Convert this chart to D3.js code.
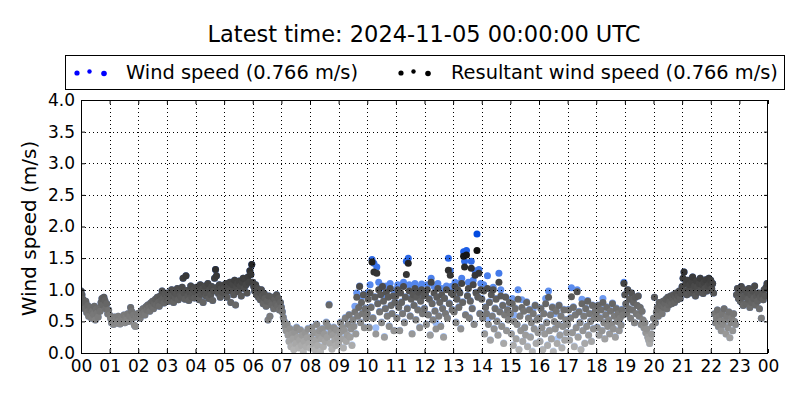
<!DOCTYPE html>
<html>
<head>
<meta charset="utf-8">
<script src="https://cdn.jsdelivr.net/npm/d3@7"></script>
<style>
  body { margin: 0; background: #fff; }
  svg text { font-family: "DejaVu Sans", sans-serif; fill: #000; }
</style>
</head>
<body>
<svg id="chart" width="800" height="400"></svg>
<script>
// ---------------- data ----------------
const titleText = "Latest time: 2024-11-05 00:00:00 UTC";
const seriesNames = ["Wind speed (0.766 m/s)", "Resultant wind speed (0.766 m/s)"];
const yAxisLabel = "Wind speed (m/s)";
const hourLabels = ["00","01","02","03","04","05","06","07","08","09","10","11",
                    "12","13","14","15","16","17","18","19","20","21","22","23","00"];
const yTickValues = [0.0, 0.5, 1.0, 1.5, 2.0, 2.5, 3.0, 3.5, 4.0];
const sampleMinutes = 2; // one sample every 2 minutes, 30 per hour

// Wind speed (m/s), 30 samples per hour, hours 00..23
const windSpeed = [
  0.98,0.92,0.85,0.78,0.70,0.82,0.64,0.75,0.58,0.68,0.72,0.55,0.66,0.61,0.74,0.52,0.69,0.63,0.57,0.71,0.66,0.80,0.86,0.76,0.88,0.83,0.70,0.78,0.62,0.68, // 00
  0.60,0.55,0.48,0.52,0.45,0.57,0.50,0.54,0.47,0.58,0.51,0.46,0.55,0.49,0.53,0.60,0.48,0.56,0.52,0.62,0.50,0.58,0.72,0.66,0.55,0.60,0.44,0.42,0.57,0.62, // 01
  0.58,0.63,0.55,0.66,0.61,0.70,0.64,0.60,0.73,0.68,0.76,0.71,0.66,0.79,0.74,0.82,0.70,0.78,0.85,0.76,0.88,0.80,0.74,0.90,0.83,0.98,0.86,0.79,0.93,0.85, // 02
  0.88,0.95,0.82,0.92,0.86,1.00,0.90,0.80,0.96,0.87,0.93,1.02,0.84,0.97,0.91,0.88,1.04,1.18,0.95,0.85,1.22,0.99,0.90,0.83,0.96,1.06,0.89,0.94,1.00,0.87, // 03
  0.96,1.04,0.88,0.99,0.84,1.08,0.93,1.01,0.80,0.97,1.06,0.90,0.95,1.10,0.86,1.00,0.92,1.05,0.83,0.98,1.18,1.32,1.22,1.04,0.94,1.08,0.88,1.02,0.96,1.07, // 04
  1.02,0.94,1.10,0.88,1.05,0.98,1.12,0.80,1.00,1.08,0.92,1.15,0.76,1.04,1.10,0.97,1.14,1.06,0.90,1.12,1.18,1.02,1.16,1.08,0.95,1.20,1.12,1.30,1.24,1.40, // 05
  1.12,1.05,0.98,1.08,0.92,1.02,0.88,0.96,0.84,1.00,0.90,0.78,0.94,0.86,0.74,0.82,0.52,0.90,0.58,0.80,0.76,0.88,0.70,0.84,0.78,0.92,0.74,0.86,0.68,0.80, // 06
  0.73,0.66,0.57,0.51,0.43,0.36,0.46,0.29,0.19,0.39,0.11,0.31,0.30,0.06,0.34,0.16,0.41,0.26,0.09,0.21,0.37,0.13,0.29,0.03,0.19,0.33,0.11,0.25,0.39,0.16, // 07
  0.09,0.26,0.41,0.24,0.33,0.06,0.21,0.46,0.13,0.29,0.36,0.03,0.23,0.39,0.11,0.31,0.19,0.49,0.33,0.43,0.77,0.16,0.34,0.07,0.29,0.41,0.21,0.13,0.37,0.25, // 08
  0.16,0.33,0.49,0.23,0.41,0.09,0.36,0.56,0.28,0.29,0.46,0.61,0.26,0.39,0.13,0.53,0.43,0.74,0.31,0.95,0.59,0.73,1.06,0.49,0.88,0.63,0.93,0.41,0.71,0.56, // 09
  0.63,0.96,0.41,1.08,0.73,1.48,0.56,1.42,0.89,0.40,1.36,0.79,1.12,0.66,1.02,0.49,1.06,0.90,0.26,0.71,1.06,0.59,0.89,0.43,1.10,0.76,0.63,1.00,0.36,0.81, // 10
  1.00,0.56,1.08,0.73,0.36,1.06,0.81,0.63,1.12,0.49,0.89,1.45,0.71,1.50,1.08,0.59,0.86,0.31,0.93,0.76,1.10,0.53,0.89,0.69,1.04,0.41,0.83,1.09,0.63,0.91, // 11
  0.71,0.93,0.46,1.08,0.61,0.86,0.29,1.18,0.79,0.53,1.05,0.67,0.48,0.89,1.10,0.59,0.81,0.43,1.02,0.71,0.26,0.87,0.63,1.06,0.56,1.50,0.79,1.30,1.05,0.69, // 12
  1.02,0.66,1.12,0.49,0.86,1.10,0.73,0.96,0.39,1.18,0.81,1.60,1.45,0.61,1.62,0.91,1.12,0.56,0.83,1.45,0.71,1.15,0.46,1.30,0.96,1.88,0.89,1.32,0.63,1.10, // 13
  0.86,0.56,1.08,0.31,0.73,0.63,1.22,0.55,0.81,0.21,1.00,0.59,1.04,0.39,0.71,0.86,0.51,0.29,1.26,0.66,1.00,0.43,0.76,0.16,0.61,0.89,0.36,0.69,0.53,0.81, // 14
  0.63,0.31,0.86,0.13,0.60,0.71,0.23,0.46,1.00,0.06,0.59,0.36,0.84,0.19,0.67,0.41,0.29,0.81,0.11,0.56,0.69,0.26,0.49,0.03,0.70,0.39,0.76,0.16,0.53,0.33, // 15
  0.56,0.19,0.71,0.41,0.06,0.63,0.31,0.86,0.49,0.13,0.98,0.36,0.61,0.23,0.73,0.03,0.62,0.39,0.67,0.22,0.46,0.76,0.29,0.59,0.09,0.43,0.69,0.21,0.53,0.33, // 16
  0.46,0.69,0.21,0.56,1.03,0.33,0.73,0.11,0.61,0.41,1.00,0.26,0.66,0.49,0.06,0.85,0.36,0.59,0.16,0.71,0.43,0.83,0.29,0.63,0.51,0.19,0.76,0.39,0.56,0.67, // 17
  0.63,0.41,0.76,0.29,0.56,0.69,0.36,0.86,0.49,0.23,0.61,0.73,0.43,0.53,0.31,0.67,0.46,0.79,0.39,0.59,0.26,0.71,0.51,0.63,0.36,0.56,0.45,0.69,0.61,1.12, // 18
  0.92,0.78,0.62,1.00,0.70,0.85,0.55,0.95,0.68,0.80,0.48,0.88,0.62,0.75,0.90,0.58,0.72,0.45,0.66,0.52,0.40,0.48,0.32,0.38,0.25,0.20,0.15,0.22,0.30,0.42, // 19
  0.55,0.88,0.48,0.65,0.72,0.58,0.80,0.68,0.75,0.62,0.82,0.72,0.78,0.85,0.70,0.88,0.76,0.82,0.90,0.78,0.86,0.92,0.80,0.88,0.95,0.84,0.90,0.98,0.86,0.94, // 20
  1.05,1.18,1.28,0.98,1.10,0.92,1.15,1.02,1.08,0.95,1.12,1.20,1.00,1.06,0.90,1.14,1.04,0.96,1.10,1.18,1.00,1.08,0.94,1.12,1.02,1.16,0.98,1.06,1.18,1.10, // 21
  1.15,1.02,1.10,0.95,0.62,0.48,0.55,0.68,0.42,0.58,0.50,0.35,0.62,0.45,0.70,0.52,0.30,0.58,0.40,0.65,0.24,0.48,0.55,0.35,0.62,0.50,0.45,0.92,1.02,0.86, // 22
  0.95,0.82,1.05,0.88,0.75,1.00,0.90,0.78,0.96,0.85,1.02,0.72,0.92,0.80,0.98,0.86,1.06,0.76,0.90,0.82,0.95,0.70,0.88,0.55,0.92,0.84,1.00,0.90,1.04,1.10  // 23
];

// Resultant wind speed (m/s), same sampling
const resultantSpeed = [
  0.98,0.92,0.85,0.78,0.70,0.82,0.64,0.75,0.58,0.68,0.72,0.55,0.66,0.61,0.74,0.52,0.69,0.63,0.57,0.71,0.66,0.80,0.86,0.76,0.88,0.83,0.70,0.78,0.62,0.68, // 00
  0.60,0.55,0.48,0.52,0.45,0.57,0.50,0.54,0.47,0.58,0.51,0.46,0.55,0.49,0.53,0.60,0.48,0.56,0.52,0.62,0.50,0.58,0.72,0.66,0.55,0.60,0.44,0.42,0.57,0.62, // 01
  0.58,0.63,0.55,0.66,0.61,0.70,0.64,0.60,0.73,0.68,0.76,0.71,0.66,0.79,0.74,0.82,0.70,0.78,0.85,0.76,0.88,0.80,0.74,0.90,0.83,0.98,0.86,0.79,0.93,0.85, // 02
  0.88,0.95,0.82,0.92,0.86,1.00,0.90,0.80,0.96,0.87,0.93,1.02,0.84,0.97,0.91,0.88,1.04,1.18,0.95,0.85,1.22,0.99,0.90,0.83,0.96,1.06,0.89,0.94,1.00,0.87, // 03
  0.96,1.04,0.88,0.99,0.84,1.08,0.93,1.01,0.80,0.97,1.06,0.90,0.95,1.10,0.86,1.00,0.92,1.05,0.83,0.98,1.18,1.32,1.22,1.04,0.94,1.08,0.88,1.02,0.96,1.07, // 04
  1.02,0.94,1.10,0.88,1.05,0.98,1.12,0.80,1.00,1.08,0.92,1.15,0.76,1.04,1.10,0.97,1.14,1.06,0.90,1.12,1.18,1.02,1.16,1.08,0.95,1.20,1.12,1.30,1.24,1.40, // 05
  1.12,1.05,0.98,1.08,0.92,1.02,0.88,0.96,0.84,1.00,0.90,0.78,0.94,0.86,0.74,0.82,0.52,0.90,0.58,0.80,0.76,0.88,0.70,0.84,0.78,0.92,0.74,0.86,0.68,0.80, // 06
  0.72,0.65,0.56,0.50,0.42,0.35,0.45,0.28,0.18,0.38,0.10,0.30,0.22,0.05,0.33,0.15,0.40,0.25,0.08,0.20,0.36,0.12,0.28,0.02,0.18,0.32,0.10,0.24,0.38,0.15, // 07
  0.08,0.25,0.40,0.15,0.32,0.05,0.20,0.45,0.12,0.28,0.35,0.02,0.22,0.38,0.10,0.30,0.18,0.48,0.25,0.42,0.76,0.15,0.33,0.06,0.28,0.40,0.20,0.12,0.36,0.24, // 08
  0.15,0.32,0.48,0.22,0.40,0.08,0.35,0.55,0.18,0.28,0.45,0.60,0.25,0.38,0.12,0.52,0.42,0.65,0.30,0.88,0.58,0.72,1.05,0.48,0.80,0.62,0.92,0.40,0.70,0.55, // 09
  0.62,0.85,0.40,0.95,0.72,1.44,0.55,1.28,0.88,0.30,1.26,0.78,1.00,0.65,0.92,0.48,1.05,0.82,0.25,0.70,0.96,0.58,0.88,0.42,1.02,0.75,0.62,0.90,0.35,0.80, // 10
  0.90,0.55,1.00,0.72,0.35,0.95,0.80,0.62,1.05,0.48,0.88,1.24,0.70,1.42,0.98,0.58,0.85,0.30,0.92,0.75,1.02,0.52,0.88,0.68,0.96,0.40,0.82,1.00,0.62,0.90, // 11
  0.70,0.92,0.45,1.00,0.60,0.85,0.28,1.12,0.78,0.52,0.95,0.66,0.38,0.88,1.02,0.58,0.80,0.42,0.92,0.70,0.25,0.86,0.62,1.00,0.55,1.31,0.78,1.23,0.95,0.68, // 12
  0.92,0.65,1.05,0.48,0.85,1.00,0.72,0.95,0.38,1.10,0.80,1.53,1.36,0.60,1.55,0.90,1.02,0.55,0.82,1.34,0.70,1.08,0.45,1.23,0.95,1.62,0.88,1.26,0.62,1.00, // 13
  0.85,0.55,0.98,0.30,0.72,0.62,1.02,0.45,0.80,0.20,0.92,0.58,1.00,0.38,0.70,0.85,0.50,0.28,1.12,0.65,0.90,0.42,0.75,0.15,0.60,0.88,0.35,0.68,0.52,0.80, // 14
  0.62,0.30,0.78,0.12,0.50,0.70,0.22,0.45,0.85,0.05,0.58,0.35,0.72,0.18,0.66,0.40,0.28,0.80,0.10,0.55,0.68,0.25,0.48,0.02,0.62,0.38,0.75,0.15,0.52,0.32, // 15
  0.55,0.18,0.70,0.40,0.05,0.62,0.30,0.78,0.48,0.12,0.88,0.35,0.60,0.22,0.72,0.02,0.50,0.38,0.66,0.15,0.45,0.75,0.28,0.58,0.08,0.42,0.68,0.20,0.52,0.32, // 16
  0.45,0.68,0.20,0.55,0.89,0.32,0.72,0.10,0.60,0.40,0.97,0.25,0.65,0.48,0.05,0.78,0.35,0.58,0.15,0.70,0.42,0.82,0.28,0.62,0.50,0.18,0.75,0.38,0.55,0.66, // 17
  0.62,0.40,0.75,0.28,0.55,0.68,0.35,0.80,0.48,0.22,0.60,0.72,0.42,0.52,0.30,0.66,0.45,0.78,0.38,0.58,0.25,0.70,0.50,0.62,0.35,0.55,0.44,0.68,0.60,1.10, // 18
  0.92,0.78,0.62,1.00,0.70,0.85,0.55,0.95,0.68,0.80,0.48,0.88,0.62,0.75,0.90,0.58,0.72,0.45,0.66,0.52,0.40,0.48,0.32,0.38,0.25,0.20,0.15,0.22,0.30,0.42, // 19
  0.55,0.88,0.48,0.65,0.72,0.58,0.80,0.68,0.75,0.62,0.82,0.72,0.78,0.85,0.70,0.88,0.76,0.82,0.90,0.78,0.86,0.92,0.80,0.88,0.95,0.84,0.90,0.98,0.86,0.94, // 20
  1.05,1.18,1.28,0.98,1.10,0.92,1.15,1.02,1.08,0.95,1.12,1.20,1.00,1.06,0.90,1.14,1.04,0.96,1.10,1.18,1.00,1.08,0.94,1.12,1.02,1.16,0.98,1.06,1.18,1.10, // 21
  1.15,1.02,1.10,0.95,0.62,0.48,0.55,0.68,0.42,0.58,0.50,0.35,0.62,0.45,0.70,0.52,0.30,0.58,0.40,0.65,0.24,0.48,0.55,0.35,0.62,0.50,0.45,0.92,1.02,0.86, // 22
  0.95,0.82,1.05,0.88,0.75,1.00,0.90,0.78,0.96,0.85,1.02,0.72,0.92,0.80,0.98,0.86,1.06,0.76,0.90,0.82,0.95,0.70,0.88,0.55,0.92,0.84,1.00,0.90,1.04,1.10  // 23
];

// ---------------- chart ----------------
const svg = d3.select("#chart");
const W = 800, H = 400;
const plot = { left: 81, right: 768, top: 100, bottom: 353 };

const x = d3.scaleLinear().domain([0, 24]).range([plot.left, plot.right]);
const y = d3.scaleLinear().domain([0, 4]).range([plot.bottom, plot.top]);

const greyColor = d3.scaleLinear().domain([0, 1.75]).range(["#b8b8b8", "#000000"]).clamp(true);
const blueColor = d3.scaleLinear().domain([0, 1.9]).range(["#c6dcff", "#0048e0"]).clamp(true);

svg.append("rect").attr("width", W).attr("height", H).attr("fill", "#fff");

svg.append("defs").append("clipPath").attr("id", "plotclip")
  .append("rect")
  .attr("x", plot.left).attr("y", plot.top)
  .attr("width", plot.right - plot.left).attr("height", plot.bottom - plot.top);

const toPoints = arr => arr.map((v, i) => ({ t: i * sampleMinutes / 60, v }));

const pts = svg.append("g").attr("clip-path", "url(#plotclip)");
const R = 3.5;
pts.append("g").selectAll("circle").data(toPoints(windSpeed)).join("circle")
  .attr("cx", d => x(d.t)).attr("cy", d => y(d.v)).attr("r", R)
  .attr("fill", d => blueColor(d.v));
pts.append("g").selectAll("circle").data(toPoints(resultantSpeed)).join("circle")
  .attr("cx", d => x(d.t)).attr("cy", d => y(d.v)).attr("r", R)
  .attr("fill", d => greyColor(d.v));

// grid (dotted, drawn over points like classic matplotlib)
const grid = svg.append("g").attr("stroke", "#000").attr("stroke-width", 1)
  .attr("stroke-dasharray", "1,3").attr("shape-rendering", "crispEdges");
grid.selectAll("line.gx").data(d3.range(1, 24)).join("line").attr("class", "gx")
  .attr("x1", d => Math.round(x(d)) + 0.5).attr("x2", d => Math.round(x(d)) + 0.5)
  .attr("y1", plot.top).attr("y2", plot.bottom);
grid.selectAll("line.gy").data(yTickValues.slice(1, -1)).join("line").attr("class", "gy")
  .attr("y1", d => Math.round(y(d)) + 0.5).attr("y2", d => Math.round(y(d)) + 0.5)
  .attr("x1", plot.left).attr("x2", plot.right);

// axes (ticks inside, all four sides)
const fs = 17;
const xAxis = d3.axisBottom(x).tickValues(d3.range(25))
  .tickFormat((d, i) => hourLabels[i]).tickSizeInner(-4).tickSizeOuter(0).tickPadding(7);
const gx = svg.append("g").attr("transform", `translate(0,${plot.bottom})`).call(xAxis);
const xTop = d3.axisTop(x).tickValues(d3.range(25)).tickFormat("").tickSizeInner(-4).tickSizeOuter(0);
const gxt = svg.append("g").attr("transform", `translate(0,${plot.top})`).call(xTop);
const yAxis = d3.axisLeft(y).tickValues(yTickValues).tickFormat(d3.format(".1f"))
  .tickSizeInner(-4).tickSizeOuter(0).tickPadding(6);
const gy = svg.append("g").attr("transform", `translate(${plot.left},0)`).call(yAxis);
const yRight = d3.axisRight(y).tickValues(yTickValues).tickFormat("").tickSizeInner(-4).tickSizeOuter(0);
const gyr = svg.append("g").attr("transform", `translate(${plot.right},0)`).call(yRight);

[gx, gxt, gy, gyr].forEach(g => {
  g.select(".domain").remove();
  g.selectAll("line").attr("stroke", "#000");
  g.selectAll("text").attr("font-size", fs).attr("font-family", "DejaVu Sans, sans-serif").attr("fill", "#000");
});

// frame
svg.append("rect")
  .attr("x", plot.left + 0.5).attr("y", plot.top + 0.5)
  .attr("width", plot.right - plot.left - 1).attr("height", plot.bottom - plot.top)
  .attr("fill", "none").attr("stroke", "#000").attr("stroke-width", 1);

// y axis label
svg.append("text")
  .attr("transform", `translate(36,${(plot.top + plot.bottom) / 2 + 2}) rotate(-90)`)
  .attr("text-anchor", "middle").attr("font-size", 20)
  .text(yAxisLabel);

// title
svg.append("text")
  .attr("x", 424).attr("y", 42).attr("text-anchor", "middle")
  .attr("font-size", 22.5).text(titleText);

// legend
const lg = svg.append("g");
lg.append("rect").attr("x", 65.5).attr("y", 55.5).attr("width", 719).attr("height", 34)
  .attr("fill", "#fff").attr("stroke", "#000").attr("stroke-width", 1);
const legendItems = [
  { name: seriesNames[0], color: "#0000ff", mx: 77, tx: 126 },
  { name: seriesNames[1], color: "#000000", mx: 401, tx: 451 }
];
const markerOffsets = [{ dx: 0, dy: 1, r: 2.6 }, { dx: 12.5, dy: -0.5, r: 2.2 }, { dx: 27, dy: 1.5, r: 2.8 }];
legendItems.forEach(it => {
  lg.append("g").selectAll("circle").data(markerOffsets).join("circle")
    .attr("cx", m => it.mx + m.dx).attr("cy", m => 72 + m.dy).attr("r", m => m.r)
    .attr("fill", it.color);
  lg.append("text").attr("x", it.tx).attr("y", 78.5).attr("font-size", 19.4).text(it.name);
});
</script>
</body>
</html>
